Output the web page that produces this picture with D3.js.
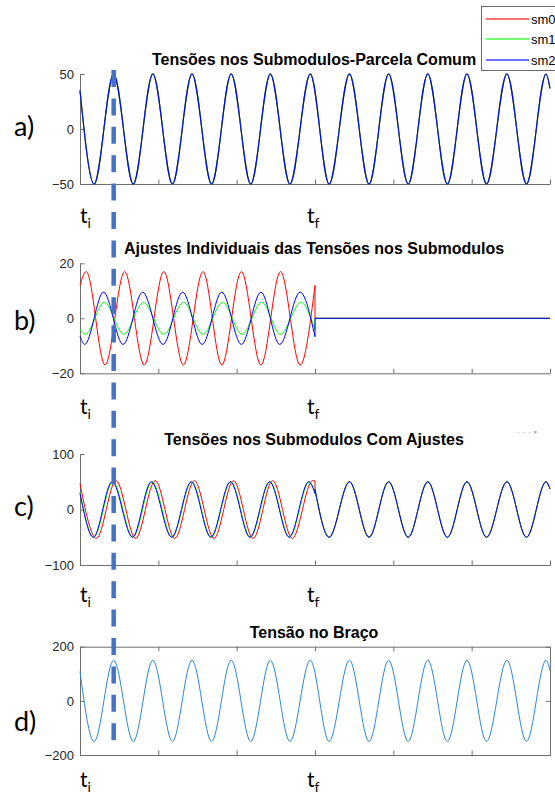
<!DOCTYPE html>
<html>
<head>
<meta charset="utf-8">
<script src="https://cdn.jsdelivr.net/npm/d3@7"></script>
<style>
  html, body { margin: 0; padding: 0; background: #fff; }
  svg { display: block; }
</style>
</head>
<body>
<svg id="chart" width="555" height="794"></svg>
<script>
// ---------------- data ----------------
const xTicks = [0, 1, 2, 3, 4, 5, 6];
const tInitial = 0;
const tFinal = 3;
const markerTime = 0.43;          // dashed vertical marker

const seriesNames = ["sm0", "sm1", "sm2"];
const seriesColors = ["#ff0000", "#00ff00", "#0000ff"];

const titles = [
  "Tensões nos Submodulos-Parcela Comum",
  "Ajustes Individuais das Tensões nos Submodulos",
  "Tensões nos Submodulos Com Ajustes",
  "Tensão no Braço"
];
const panelLabels = ["a)", "b)", "c)", "d)"];
const yTicksA = [-50, 0, 50];
const yTicksB = [-20, 0, 20];
const yTicksC = [-100, 0, 100];
const yTicksD = [-200, 0, 200];

// a) common part (sm0 = sm1 = sm2): extrema times and values
const aTimes = [0, 0.18, 0.43, 0.68, 0.93, 1.18, 1.43, 1.68, 1.93, 2.18, 2.43, 2.68, 2.94,
                3.18, 3.44, 3.69, 3.94, 4.19, 4.44, 4.69, 4.94, 5.19, 5.45, 5.70, 5.95, 6.0];
const aVolts = [35, -50, 50, -50, 50, -50, 50, -50, 50, -50, 50, -50, 50,
                -50, 50, -50, 50, -50, 50, -50, 50, -50, 50, -50, 50, 37];
const aAtFinal = 36;

// b) individual adjustments (until tf, then 0)
const bRedTimes   = [0, 0.08, 0.32, 0.57, 0.82, 1.07, 1.32, 1.57, 1.81, 2.06, 2.31, 2.56, 2.81, 3.0];
const bRedVals    = [12, 17, -17, 17, -17, 17, -17, 17, -17, 17, -17, 17, -17, 12];
const bGreenTimes = [0, 0.07, 0.31, 0.56, 0.81, 1.07, 1.32, 1.57, 1.82, 2.07, 2.32, 2.56, 2.82, 3.0];
const bGreenVals  = [-4, -5.8, 5.8, -5.8, 5.8, -5.8, 5.8, -5.8, 5.8, -5.8, 5.8, -5.8, 5.8, -4.2];
const bBlueTimes  = [0, 0.06, 0.30, 0.55, 0.80, 1.06, 1.31, 1.56, 1.81, 2.06, 2.31, 2.55, 2.81, 3.0];
const bBlueVals   = [-6.5, -9.5, 9.5, -9.5, 9.5, -9.5, 9.5, -9.5, 9.5, -9.5, 9.5, -9.5, 9.5, -6.7];
const bAfterValue = 0;

// c) with adjustments (until tf, then equal to a)
const cRedTimes   = [0, 0.21, 0.46, 0.71, 0.96, 1.21, 1.46, 1.71, 1.96, 2.21, 2.46, 2.71, 2.97, 3.0];
const cRedVals    = [47, -52, 52, -52, 52, -52, 52, -52, 52, -52, 52, -52, 52, 51.5];
const cGreenTimes = [0, 0.175, 0.42, 0.675, 0.92, 1.175, 1.425, 1.675, 1.925, 2.175, 2.425, 2.675, 2.925, 3.0];
const cGreenVals  = [31, -50, 50, -50, 50, -50, 50, -50, 50, -50, 50, -50, 50, 31];
const cBlueTimes  = [0, 0.17, 0.41, 0.67, 0.91, 1.17, 1.42, 1.67, 1.92, 2.17, 2.42, 2.67, 2.92, 3.0];
const cBlueVals   = [29, -50, 50, -50, 50, -50, 50, -50, 50, -50, 50, -50, 50, 29];

// d) arm voltage (same time grid as a)
const dVolts = [108, -150, 150, -150, 150, -150, 150, -150, 150, -150, 150, -150, 150,
                -150, 150, -150, 150, -150, 150, -150, 150, -150, 150, -150, 150, 111];
const dColor = "#2a88d2";

// ---------------- layout ----------------
const svg = d3.select("#chart");
const x = d3.scaleLinear().domain([0, 6]).range([80, 550]);
const panels = [
  { top: 74,    bottom: 184,   ticks: yTicksA, labelY: 136, tY: 223, box: false },
  { top: 263.3, bottom: 373.3, ticks: yTicksB, labelY: 330, tY: 414, box: false },
  { top: 454,   bottom: 565,   ticks: yTicksC, labelY: 516, tY: 602, box: false },
  { top: 646.7, bottom: 755,   ticks: yTicksD, labelY: 731, tY: 787, box: true }
];
panels.forEach(p => {
  p.y = d3.scaleLinear().domain([p.ticks[0], p.ticks[2]]).range([p.bottom, p.top]);
});

const zip = (ts, vs) => ts.map((t, i) => [t, vs[i]]);
const axisColor = "#6e6e6e";

function drawAxes(g, p) {
  const ax = g.append("g").attr("transform", `translate(${x.range()[0]},0)`)
    .call(d3.axisLeft(p.y).tickValues(p.ticks).tickSizeInner(-4.5).tickSizeOuter(0).tickPadding(6));
  const bx = g.append("g").attr("transform", `translate(0,${p.bottom})`)
    .call(d3.axisBottom(x).tickValues(xTicks).tickFormat("").tickSizeInner(-4.5).tickSizeOuter(0));
  const all = [ax, bx];
  if (p.box) {
    all.push(g.append("g").attr("transform", `translate(0,${p.top})`)
      .call(d3.axisTop(x).tickValues(xTicks).tickFormat("").tickSizeInner(-4.5).tickSizeOuter(0)));
    all.push(g.append("g").attr("transform", `translate(${x.range()[1]},0)`)
      .call(d3.axisRight(p.y).tickValues(p.ticks).tickFormat("").tickSizeInner(-4.5).tickSizeOuter(0)));
  }
  all.forEach(a => {
    a.select(".domain").attr("stroke", axisColor);
    a.selectAll(".tick line").attr("stroke", axisColor);
    a.selectAll(".tick text").attr("fill", "#262626")
      .style("font-family", "'Liberation Sans', Arial, sans-serif").style("font-size", "13px");
  });
}

panels.forEach((p, i) => {
  const g = svg.append("g");
  drawAxes(g, p);
  g.append("text")
    .attr("x", (x.range()[0] + x.range()[1]) / 2 - 1)
    .attr("y", p.top - 9)
    .attr("text-anchor", "middle")
    .style("font-family", "'Liberation Sans', Arial, sans-serif")
    .style("font-weight", "bold").style("font-size", "16px")
    .attr("fill", "#000")
    .text(titles[i]);
  g.append("text")
    .attr("x", 14).attr("y", p.labelY)
    .style("font-family", "Lato, 'Open Sans', sans-serif").style("font-size", "27px")
    .attr("fill", "#000")
    .text(panelLabels[i]);
  [[tInitial, "i", 0], [tFinal, "f", -8]].forEach(([t, sub, dx]) => {
    const tt = g.append("text")
      .attr("x", x(t) + dx).attr("y", p.tY)
      .style("font-family", "Lato, 'Open Sans', sans-serif").style("font-size", "21px")
      .attr("fill", "#000");
    tt.append("tspan").text("t");
    tt.append("tspan").attr("dy", 4.5).style("font-size", "14px").text(sub);
  });
  p.g = g;
});

const curve = p => d3.line().x(d => x(d[0])).y(d => p.y(d[1])).curve(d3.curveMonotoneX);
const straight = p => d3.line().x(d => x(d[0])).y(d => p.y(d[1]));

// a)
{
  const p = panels[0];
  const pts = zip(aTimes, aVolts);
  seriesColors.forEach(c => {
    p.g.append("path").attr("d", curve(p)(pts)).attr("fill", "none")
      .attr("stroke", c).attr("stroke-width", 1.1);
  });
}
// b)
{
  const p = panels[1];
  const sets = [zip(bRedTimes, bRedVals), zip(bGreenTimes, bGreenVals), zip(bBlueTimes, bBlueVals)];
  sets.forEach((pts, k) => {
    const last = pts[pts.length - 1];
    const tail = [last, [tFinal, bAfterValue], [xTicks[xTicks.length - 1], bAfterValue]];
    p.g.append("path").attr("d", curve(p)(pts) + straight(p)(tail)).attr("fill", "none")
      .attr("stroke", seriesColors[k]).attr("stroke-width", 1);
  });
}
// c)
{
  const p = panels[2];
  const sets = [zip(cRedTimes, cRedVals), zip(cGreenTimes, cGreenVals), zip(cBlueTimes, cBlueVals)];
  const after = [[tFinal, aAtFinal]].concat(zip(aTimes, aVolts).filter(d => d[0] > tFinal));
  sets.forEach((pts, k) => {
    const last = pts[pts.length - 1];
    const d = curve(p)(pts) + straight(p)([last, [tFinal, aAtFinal]]) + curve(p)(after);
    p.g.append("path").attr("d", d).attr("fill", "none")
      .attr("stroke", seriesColors[k]).attr("stroke-width", 1);
  });
}
// d)
{
  const p = panels[3];
  p.g.append("path").attr("d", curve(p)(zip(aTimes, dVolts))).attr("fill", "none")
    .attr("stroke", dColor).attr("stroke-width", 1);
}

// faint clipped exponent label between b) and c)
svg.append("text").attr("x", 517).attr("y", 435)
  .style("font-family", "'Liberation Sans', Arial, sans-serif").style("font-size", "9px")
  .attr("fill", "#aaa").text("· · · ▪");

// dashed marker
svg.append("line")
  .attr("x1", x(markerTime)).attr("x2", x(markerTime))
  .attr("y1", 70).attr("y2", 748)
  .attr("stroke", "#4472C4").attr("stroke-width", 4.5)
  .attr("stroke-dasharray", "17,11.4");

// legend
{
  const lg = svg.append("g");
  lg.append("rect").attr("x", 481.5).attr("y", 6.5).attr("width", 90).attr("height", 64)
    .attr("fill", "#fff").attr("stroke", "#6a6a6a").attr("stroke-width", 1);
  const ly = [19, 39, 60];
  seriesNames.forEach((n, k) => {
    lg.append("line").attr("x1", 486).attr("x2", 529).attr("y1", ly[k]).attr("y2", ly[k])
      .attr("stroke", seriesColors[k]).attr("stroke-width", 1.6).attr("stroke-opacity", 0.75);
    lg.append("text").attr("x", 531).attr("y", ly[k] + 4.5)
      .style("font-family", "'Liberation Sans', Arial, sans-serif").style("font-size", "13px")
      .attr("fill", "#000").text(n);
  });
}
</script>
</body>
</html>
